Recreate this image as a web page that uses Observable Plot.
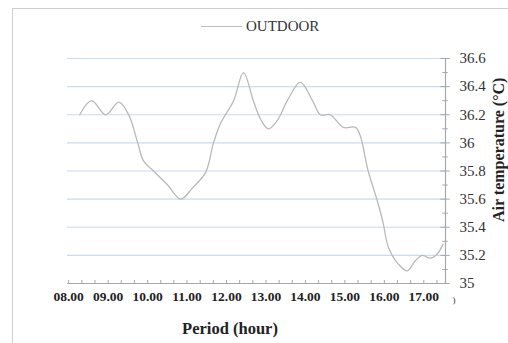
<!DOCTYPE html>
<html>
<head>
<meta charset="utf-8">
<script src="https://cdn.jsdelivr.net/npm/d3@7"></script>
<script src="https://cdn.jsdelivr.net/npm/@observablehq/plot@0.6"></script>
<style>
  html, body { margin: 0; padding: 0; background: #fff; }
  #wrap { position: relative; width: 508px; height: 343px; overflow: hidden; font-family: "Liberation Serif", "Times New Roman", serif; }
  #frame { position: absolute; left: 12px; top: 8px; width: 520px; height: 360px; border-left: 1.5px solid #cfcfcf; border-top: 1.5px solid #cfcfcf; pointer-events: none; }
  #legend { position: relative; height: 44px; }
  #legend .sw { position: absolute; left: 201px; top: 26px; width: 41px; height: 0; border-top: 1.4px solid #bdbdbd; }
  #legend .lb { position: absolute; left: 246px; top: 17px; font-size: 15px; color: #333; line-height: 18px; }
  #chart svg { display: block; }
  #xtitle { position: relative; height: 29px; }
  #xtitle span { position: absolute; left: 0; width: 460px; text-align: center; top: 6px; font-size: 16.5px; font-weight: bold; color: #222; line-height: 18px; }
  #ytitle { position: absolute; left: 490px; top: 222px; transform-origin: 0 0; transform: rotate(-90deg); white-space: nowrap; font-size: 16px; line-height: 17px; font-weight: bold; color: #222; }
</style>
</head>
<body>
<div id="wrap">
  <div id="frame"></div>
  <div id="legend"><div class="sw"></div><div class="lb" id="legendLabel"></div></div>
  <div id="chart"></div>
  <div id="xtitle"><span id="xTitleText"></span></div>
  <div id="ytitle"></div>
</div>
<script>
const seriesName = "OUTDOOR";
const hours = [8.28, 8.58, 8.94, 9.27, 9.52, 9.75, 9.90, 10.15, 10.51, 10.84, 11.14, 11.47, 11.67, 11.85, 12.18, 12.43, 12.68, 12.86, 13.06, 13.29, 13.54, 13.87, 14.18, 14.38, 14.63, 14.96, 15.27, 15.39, 15.59, 15.82, 15.97, 16.10, 16.35, 16.58, 16.78, 16.96, 17.16, 17.34, 17.49];
const temps = [36.20, 36.30, 36.20, 36.29, 36.20, 36.00, 35.87, 35.80, 35.70, 35.60, 35.68, 35.79, 36.00, 36.14, 36.30, 36.50, 36.30, 36.17, 36.10, 36.16, 36.30, 36.43, 36.30, 36.20, 36.20, 36.11, 36.11, 36.05, 35.80, 35.59, 35.43, 35.26, 35.14, 35.09, 35.16, 35.20, 35.18, 35.21, 35.28];
const xTicks = [8, 9, 10, 11, 12, 13, 14, 15, 16, 17];
const xTickLabels = ["08.00", "09.00", "10.00", "11.00", "12.00", "13.00", "14.00", "15.00", "16.00", "17.00"];
const yTicks = [35, 35.2, 35.4, 35.6, 35.8, 36, 36.2, 36.4, 36.6];
const yMinorTicks = [35.1, 35.3, 35.5, 35.7, 35.9, 36.1, 36.3, 36.5];
const xMinorTicks = d3.range(8, 17.5, 1 / 3);
const xTitle = "Period (hour)";
const yTitle = "Air temperature (°C)";

document.getElementById("legendLabel").textContent = seriesName;
document.getElementById("xTitleText").textContent = xTitle;
document.getElementById("ytitle").textContent = yTitle;

const data = hours.map((h, i) => ({hour: h, temp: temps[i]}));
const xMin = 7.97, xMax = 17.55;
const serif = "'Liberation Serif', 'Times New Roman', serif";

const chart = Plot.plot({
  width: 508,
  height: 270,
  marginLeft: 67,
  marginRight: 63,
  marginTop: 14,
  marginBottom: 31,
  style: {fontFamily: serif, background: "transparent", overflow: "hidden"},
  x: {domain: [xMin, xMax]},
  y: {domain: [35, 36.6]},
  marks: [
    Plot.ruleY(yTicks.filter(d => d > 35), {x1: xMin, x2: xMax, stroke: "#cadcef", strokeWidth: 1.2}),
    Plot.ruleY([35], {x1: xMin, x2: xMax, stroke: "#a8a8a8", strokeWidth: 1.2}),
    Plot.ruleX(xMinorTicks, {y1: 35, y2: 35.022, stroke: "#a8a8a8", strokeWidth: 1}),
    Plot.ruleX([xMax], {y1: 35, y2: 36.6, stroke: "#a8a8a8", strokeWidth: 1.2}),
    Plot.ruleY(yTicks, {x1: xMax - 0.12, x2: xMax + 0.12, stroke: "#a8a8a8", strokeWidth: 1}),
    Plot.ruleY(yMinorTicks, {x1: xMax - 0.07, x2: xMax + 0.07, stroke: "#a8a8a8", strokeWidth: 1}),
    Plot.line(data, {x: "hour", y: "temp", curve: "catmull-rom", stroke: "#b9b9b9", strokeWidth: 1.3}),
    Plot.axisX({ticks: xTicks, tickFormat: (d, i) => xTickLabels[i], tickSize: 0, tickPadding: 8, label: null,
      fontSize: 13.5, fontWeight: "bold", fill: "#222"}),
    Plot.axisY({anchor: "right", ticks: yTicks, tickFormat: d => String(d), tickSize: 0, tickPadding: 14, label: null,
      fontSize: 15, fill: "#333"}),
    Plot.text([")"], {frameAnchor: "bottom-right", dx: 10, dy: 19, fontSize: 9, fill: "#333"})
  ]
});
document.getElementById("chart").appendChild(chart);
</script>
</body>
</html>
